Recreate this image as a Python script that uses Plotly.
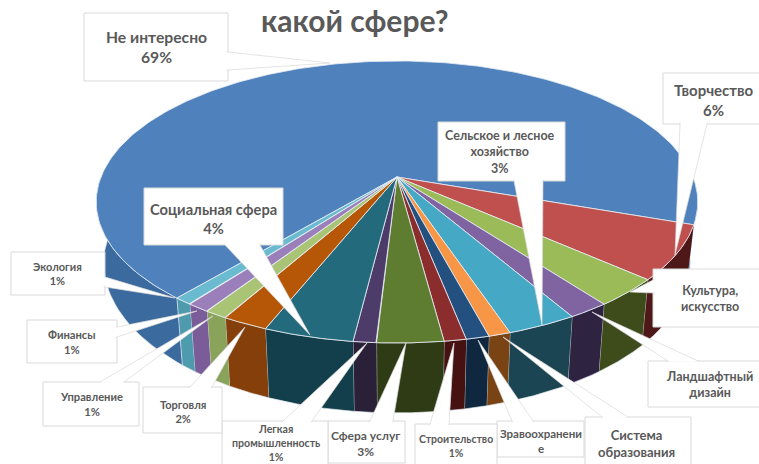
import numpy as np
import plotly.graph_objects as go

categories = ["Не интересно", "Творчество", "Культура,<br>искусство", "Ландшафтный<br>дизайн",
              "Сельское и лесное<br>хозяйство", "Система<br>образования", "Зравоохранени<br>е",
              "Строительство", "Сфера услуг", "Легкая<br>промышленность", "Социальная сфера",
              "Торговля", "Управление", "Финансы", "Экология"]
values = [69.2, 6.2, 3.2, 1.9, 3.2, 1.0, 1.05, 1.0, 3.0, 1.05, 4.1, 2.1, 1.05, 1.05, 0.85]
show_percent = [True, True, False, False, True, False, False, True, True, True, True, True, True, True, True]
top_colors = ["#4F81BD", "#C0504D", "#9BBB59", "#8064A2", "#45A9C6", "#F79646", "#24507F", "#8C2D2D",
              "#5F7D30", "#4D3B6A", "#236A7C", "#B65708", "#A9C474", "#9A7FBA", "#6ABBD0"]
wall_colors = ["#3A6A9E", "#4F1818", "#3E4C1C", "#2E2442", "#1B4552", "#7A4314", "#10283F", "#451111",
               "#2F3B15", "#2A2038", "#133F4C", "#843F0A", "#8AA35A", "#7A5C99", "#4F9BAE"]
title_text = "какой сфере?"

# projection of the pie disc
HX, HY, A, B, K = 397.0, 177.0, 296.0, 136.6, 0.177


def top_rim(deg):
    t = np.radians(deg)
    u, v = np.cos(t), np.sin(t)
    d = 1 - K * v
    return HX + A * u / d, HY + B * v / d


def low_rim(x, y):
    return HX + 0.975 * (x - HX), 263 + 150 / 141 * (y - 202)


share = np.array(values) / sum(values) * 360
first = 130.0  # the big slice starts on the left and runs over the back of the pie
edges = [first]
for s in share:
    edges.append(edges[-1] + s)

fig = go.Figure()
hover_off = dict(hoverinfo="skip", showlegend=False, mode="lines")

# side walls, only the near half of the rim
for i in range(len(values)):
    t = np.linspace(edges[i], edges[i + 1], 90)
    if i == 0:
        # two visible parts of the big slice
        a = np.linspace(edges[0], 180, 30)
        b = np.linspace(360, edges[1], 20)
        parts = [a, b]
    else:
        parts = [t]
    for p in parts:
        ux, uy = top_rim(p)
        lx, ly = low_rim(ux, uy)
        fig.add_trace(go.Scatter(x=np.r_[ux, lx[::-1]], y=np.r_[uy, ly[::-1]], fill="toself",
                                 fillcolor=wall_colors[i],
                                 line=dict(color="rgba(225,232,240,0.75)", width=0.9), **hover_off))

# top faces
for i in range(len(values)):
    t = np.linspace(edges[i], edges[i + 1], 240 if i == 0 else 40)
    ux, uy = top_rim(t)
    fig.add_trace(go.Scatter(x=np.r_[HX, ux, HX], y=np.r_[HY, uy, HY], fill="toself",
                             fillcolor=top_colors[i],
                             line=dict(color="rgba(232,238,244,0.9)", width=0.9), **hover_off))

# callouts: box (x0, y0, x1, y1), wedge base a, base b, tip, text centre, font size
callouts = [
    ((84, 13, 228, 81), (228, 52), (228, 70), (330, 63), (156, 47), 15.7),
    ((663, 73, 762, 124), (680, 124), (707, 124), (675, 255), (714, 100), 15),
    ((653, 269, 762, 327), (653, 280), (653, 293), (630, 292), (710, 298), 12.5),
    ((648, 361, 762, 407), (668, 361), (698, 361), (592, 312), (709, 384), 12.5),
    ((438, 122, 565, 181), (514, 181), (543, 181), (542, 325), (500, 152), 12.5),
    ((585, 417, 691, 470), (602, 417), (628, 417), (503, 337), (636, 443), 13),
    ((497, 421, 584, 457), (512, 421), (533, 421), (478, 340), (541, 441), 11.5),
    ((415, 424, 497, 470), (430, 424), (449, 424), (454, 343), (456, 446), 10.5),
    ((328, 421, 405, 463), (370, 421), (393, 421), (406, 343), (365, 443), 12),
    ((222, 421, 328, 470), (283, 421), (312, 421), (367, 343), (276, 443), 10.6),
    ((144, 188, 283, 245), (225, 245), (260, 245), (310, 335), (213, 218), 14.7),
    ((143, 387, 222, 433), (190, 387), (212, 387), (245, 327), (183, 411), 11),
    ((43, 382, 139, 426), (100, 382), (124, 382), (213, 316), (91, 404), 11.2),
    ((27, 320, 117, 363), (117, 327), (117, 337), (197, 311), (72, 342), 11.2),
    ((11, 252, 105, 295), (105, 277), (105, 287), (175, 298), (57, 273), 11),
]
GREY = "#D9D9D9"
TEXT = "#595959"
shapes = []
annotations = []
for cat, val, show, c in zip(categories, values, show_percent, callouts):
    box, a, b, tip, centre, size = c
    shapes.append(dict(type="rect", xref="x", yref="y", x0=box[0], y0=box[1], x1=box[2], y1=box[3],
                       fillcolor="white", line=dict(color=GREY, width=1), layer="above"))
    pts = []
    for p in (a, b):
        d = np.array(p, float) - np.array(tip, float)
        pts.append(np.array(p, float) + d / np.hypot(*d) * 1.5)
    path = f"M{pts[0][0]},{pts[0][1]} L{tip[0]},{tip[1]} L{pts[1][0]},{pts[1][1]}"
    shapes.append(dict(type="path", xref="x", yref="y", path=path, fillcolor="white",
                       line=dict(color=GREY, width=0.7), layer="above"))
    text = f"<b>{cat}<br>{round(val)}%</b>" if show else f"<b>{cat}</b>"
    annotations.append(dict(x=centre[0], y=centre[1], xref="x", yref="y", text=text, showarrow=False,
                            align="center", xanchor="center", yanchor="middle",
                            font=dict(family="Lato", size=size, color=TEXT)))

annotations.append(dict(x=354, y=20, xref="x", yref="y", text=f"<b>{title_text}</b>", showarrow=False,
                        xanchor="center", yanchor="middle",
                        font=dict(family="Lato", size=30, color=TEXT)))

fig.update_layout(
    width=759, height=464, margin=dict(l=0, r=0, t=0, b=0),
    paper_bgcolor="white", plot_bgcolor="white", showlegend=False,
    xaxis=dict(range=[0, 759], visible=False, fixedrange=True),
    yaxis=dict(range=[464, 0], visible=False, fixedrange=True),
    shapes=shapes, annotations=annotations,
)
fig.write_html("out.html", config={"displayModeBar": False},
               post_script="document.body.style.margin='0';document.body.style.overflow='hidden';")
